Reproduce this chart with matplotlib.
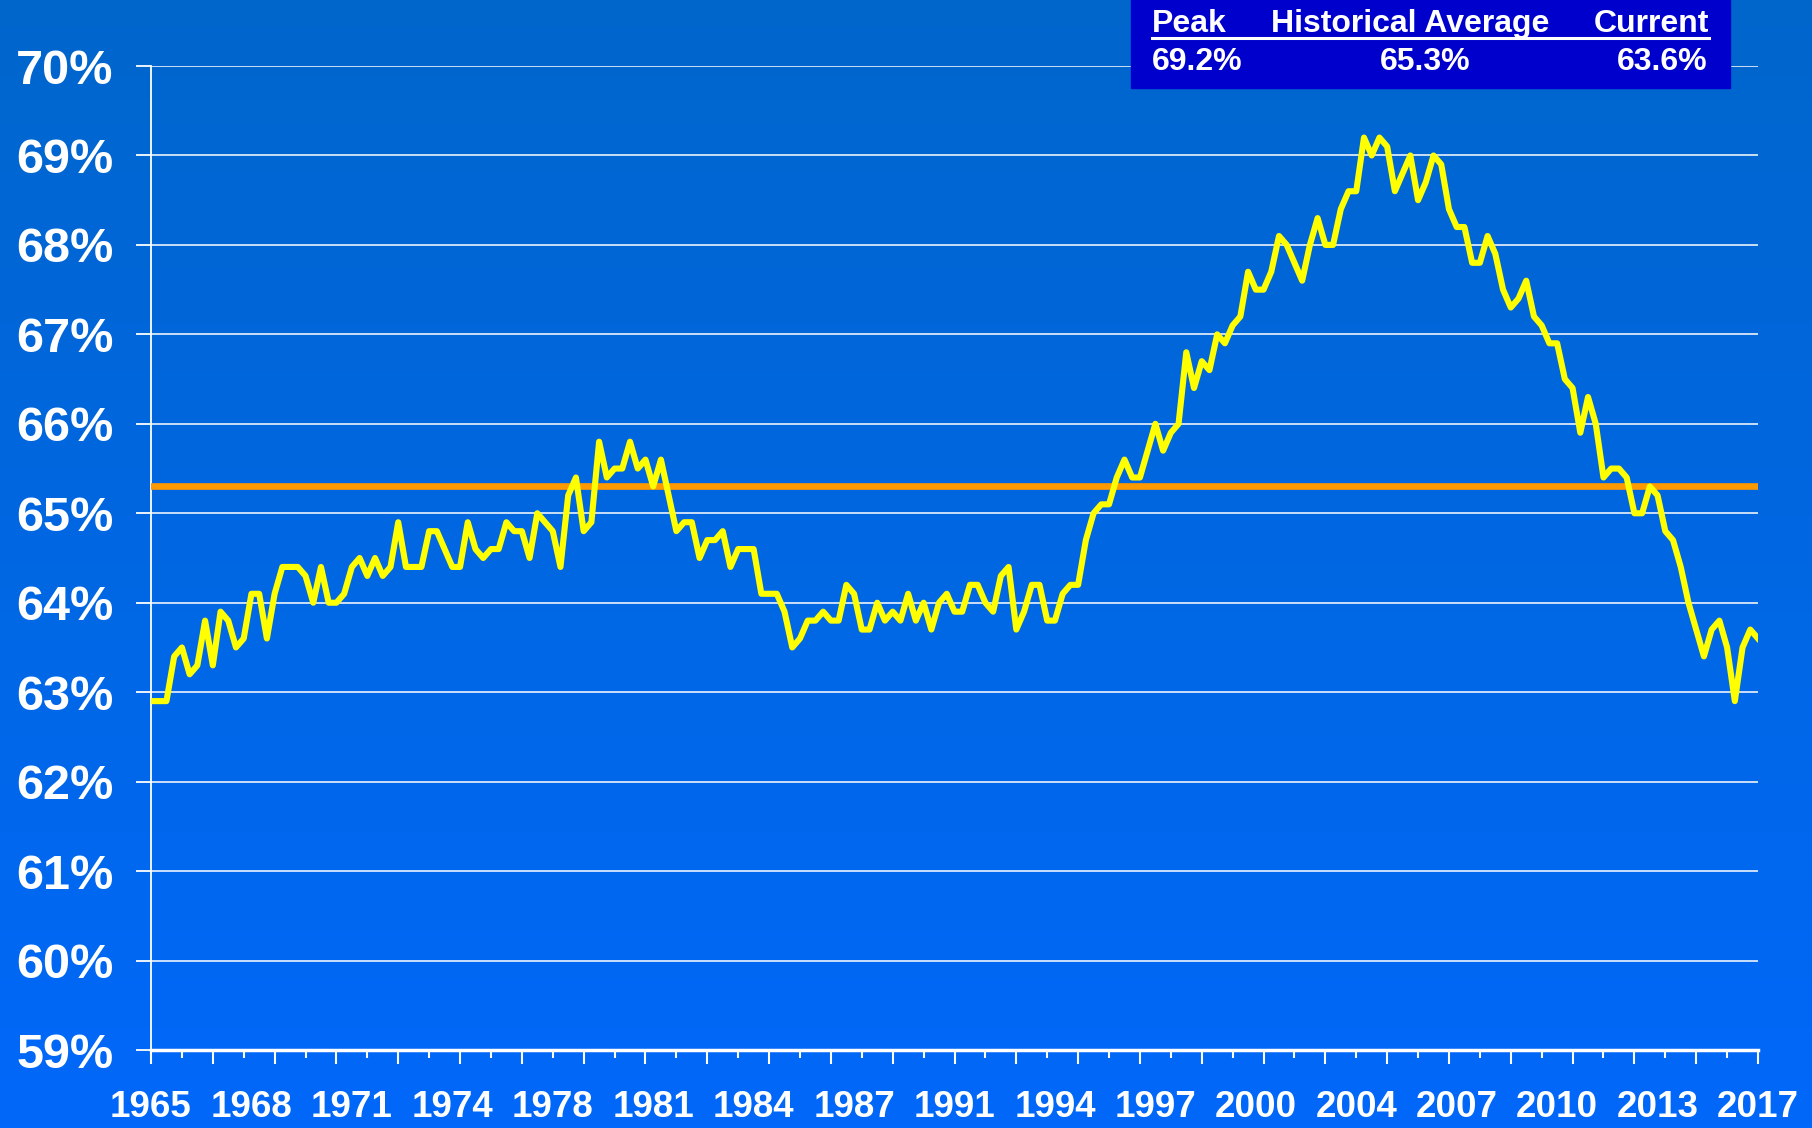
import numpy as np
import matplotlib
matplotlib.use("Agg")
import matplotlib.pyplot as plt
from matplotlib.lines import Line2D
from matplotlib.patches import Rectangle

# quarterly homeownership rate (%), 1965 Q1 .. 2017 Q1
rate_1965_1979 = [
    62.9, 62.9, 62.9, 63.4,  63.5, 63.2, 63.3, 63.8,  63.3, 63.9, 63.8, 63.5,
    63.6, 64.1, 64.1, 63.6,  64.1, 64.4, 64.4, 64.4,  64.3, 64.0, 64.4, 64.0,
    64.0, 64.1, 64.4, 64.5,  64.3, 64.5, 64.3, 64.4,  64.9, 64.4, 64.4, 64.4,
    64.8, 64.8, 64.6, 64.4,  64.4, 64.9, 64.6, 64.5,  64.6, 64.6, 64.9, 64.8,
    64.8, 64.5, 65.0, 64.9,  64.8, 64.4, 65.2, 65.4,  64.8, 64.9, 65.8, 65.4,
]
rate_1980_1994 = [
    65.5, 65.5, 65.8, 65.5,  65.6, 65.3, 65.6, 65.2,  64.8, 64.9, 64.9, 64.5,
    64.7, 64.7, 64.8, 64.4,  64.6, 64.6, 64.6, 64.1,  64.1, 64.1, 63.9, 63.5,
    63.6, 63.8, 63.8, 63.9,  63.8, 63.8, 64.2, 64.1,  63.7, 63.7, 64.0, 63.8,
    63.9, 63.8, 64.1, 63.8,  64.0, 63.7, 64.0, 64.1,  63.9, 63.9, 64.2, 64.2,
    64.0, 63.9, 64.3, 64.4,  63.7, 63.9, 64.2, 64.2,  63.8, 63.8, 64.1, 64.2,
]
rate_1995_2017 = [
    64.2, 64.7, 65.0, 65.1,  65.1, 65.4, 65.6, 65.4,  65.4, 65.7, 66.0, 65.7,
    65.9, 66.0, 66.8, 66.4,  66.7, 66.6, 67.0, 66.9,  67.1, 67.2, 67.7, 67.5,
    67.5, 67.7, 68.1, 68.0,  67.8, 67.6, 68.0, 68.3,  68.0, 68.0, 68.4, 68.6,
    68.6, 69.2, 69.0, 69.2,  69.1, 68.6, 68.8, 69.0,  68.5, 68.7, 69.0, 68.9,
    68.4, 68.2, 68.2, 67.8,  67.8, 68.1, 67.9, 67.5,  67.3, 67.4, 67.6, 67.2,
    67.1, 66.9, 66.9, 66.5,  66.4, 65.9, 66.3, 66.0,  65.4, 65.5, 65.5, 65.4,
    65.0, 65.0, 65.3, 65.2,  64.8, 64.7, 64.4, 64.0,  63.7, 63.4, 63.7, 63.8,
    63.5, 62.9, 63.5, 63.7,  63.6,
]
rate = rate_1965_1979 + rate_1980_1994 + rate_1995_2017
historical_avg = 65.3

year_labels = ["1965", "1968", "1971", "1974", "1978", "1981", "1984", "1987", "1991",
               "1994", "1997", "2000", "2004", "2007", "2010", "2013", "2017"]
y_ticks = list(range(59, 71))

table_headers = ["Peak", "Historical Average", "Current"]
table_values = ["69.2%", "65.3%", "63.6%"]

font = ["Liberation Sans", "DejaVu Sans"]

W, H = 1812, 1128
fig = plt.figure(figsize=(W / 100, H / 100), dpi=100)

# gradient background
bg = fig.add_axes([0, 0, 1, 1], zorder=-10)
grad = np.linspace(0, 1, 256).reshape(-1, 1)
top = np.array([0, 102, 204]) / 255
bot = np.array([0, 104, 250]) / 255
img = top + (bot - top) * grad[..., None]
bg.imshow(img, aspect="auto", extent=[0, 1, 0, 1])
bg.set_axis_off()

ax = fig.add_axes([151 / W, 1 - 1050 / H, (1758 - 151) / W, (1050 - 66) / H])
ax.patch.set_alpha(0)

x = np.arange(len(rate))
ax.axhline(historical_avg, color="#FF9900", lw=4.8, zorder=3)
ax.plot(x, rate, color="#FFFF00", lw=4.4, zorder=4)

ax.set_xlim(0, len(rate) - 1)
ax.set_ylim(59, 70)
ax.set_yticks(y_ticks)
ax.set_yticklabels([f"{v}%" for v in y_ticks], color="white", fontsize=35,
                   fontweight="bold", family=font)
ax.grid(axis="y", color="white", lw=1.3, alpha=0.85)
ax.tick_params(axis="y", length=11, width=1.3, color="white", pad=16)

ax.set_xticks(np.arange(0, len(rate), 8))
ax.set_xticks(np.arange(0, len(rate), 4), minor=True)
ax.tick_params(axis="x", which="major", length=10, width=1.5, color="white", labelbottom=False)
ax.tick_params(axis="x", which="minor", length=6, width=1.5, color="white")

for side in ["top", "right"]:
    ax.spines[side].set_visible(False)
ax.spines["left"].set_color("white")
ax.spines["left"].set_linewidth(1.3)
ax.spines["bottom"].set_color("white")
ax.spines["bottom"].set_linewidth(2.5)

sec = ax.secondary_xaxis("bottom")
sec.set_xticks(np.arange(0, len(rate), 13))
sec.set_xticklabels(year_labels, color="white", fontsize=26.5, fontweight="bold", family=font)
sec.tick_params(length=0, pad=29)
sec.spines["bottom"].set_visible(False)

# summary table in the top right corner
fig.patches.append(Rectangle((1131 / W, 1 - 88 / H), (1730 - 1131) / W, 88 / H,
                             transform=fig.transFigure, color="#0000CC", zorder=5))
hx = [1152, 1410, 1709]
has = ["left", "center", "right"]
for xp, ha, txt in zip(hx, has, table_headers):
    fig.text(xp / W, 1 - 32 / H, txt, ha=ha, va="baseline", color="white",
             fontsize=23, fontweight="bold", family=font, zorder=6)
fig.lines.append(Line2D([1152 / W, 1709 / W], [1 - 38 / H, 1 - 38 / H],
                        transform=fig.transFigure, color="white", lw=2.2, zorder=6))
vx = [1152, 1425, 1707]
for xp, ha, txt in zip(vx, has, table_values):
    fig.text(xp / W, 1 - 70 / H, txt, ha=ha, va="baseline", color="white",
             fontsize=23, fontweight="bold", family=font, zorder=6)

fig.savefig("out.png", dpi=100)
